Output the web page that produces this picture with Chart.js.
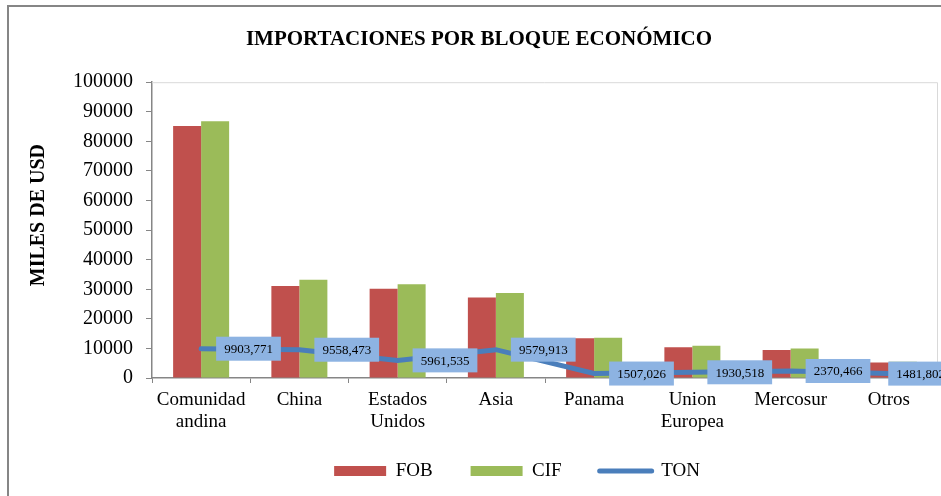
<!DOCTYPE html>
<html>
<head>
<meta charset="utf-8">
<script src="https://cdn.jsdelivr.net/npm/chart.js@4.4.1/dist/chart.umd.min.js"></script>
<style>
html,body{margin:0;padding:0;background:#fff;}
</style>
</head>
<body>
<canvas id="chart" width="941" height="496"></canvas>
<script>
// values
const categories = [['Comunidad','andina'],'China',['Estados','Unidos'],'Asia','Panama',['Union','Europea'],'Mercosur','Otros'];
const fobValues = [85200, 31100, 30200, 27200, 13400, 10400, 9500, 5200];
const cifValues = [86800, 33200, 31700, 28700, 13600, 10900, 10000, 5500];
const tonValues = [9903.771, 9558.473, 5961.535, 9579.913, 1507.026, 1930.518, 2370.466, 1481.802];
const yMin = 0, yMax = 100000, yStep = 10000;

const serif = '"Liberation Serif", "Times New Roman", serif';
Chart.defaults.font.family = serif;
Chart.defaults.color = '#000';

// outer frame + light plot-area border (top/right), legend nudge
const framePlugin = {
  id: 'frame',
  afterLayout(chart){
    // legend in the reference sits right of the canvas centre
    chart.legend.left += 38;
    chart.legend.right += 38;
  },
  beforeDraw(chart){
    const c = chart.ctx;
    c.save();
    c.fillStyle = '#fff';
    c.fillRect(0, 0, chart.width, chart.height);
    c.strokeStyle = '#868686';
    c.lineWidth = 2;
    c.strokeRect(8, 6, chart.width + 20, chart.height + 20);
    c.restore();
  },
  beforeDatasetsDraw(chart){
    const a = chart.chartArea, c = chart.ctx;
    c.save();
    c.strokeStyle = '#d9d9d9';
    c.lineWidth = 1;
    c.beginPath();
    c.moveTo(a.left, a.top + 0.5);
    c.lineTo(a.right - 0.5, a.top + 0.5);
    c.lineTo(a.right - 0.5, a.bottom);
    c.stroke();
    c.restore();
  }
};

// boxed data labels for the TON line
const tonLabels = {
  id: 'tonLabels',
  afterDatasetsDraw(chart){
    const meta = chart.getDatasetMeta(2), c = chart.ctx;
    c.save();
    c.font = '13px ' + serif;
    c.textBaseline = 'middle';
    meta.data.forEach((pt, i) => {
      const txt = tonValues[i].toFixed(3).replace('.', ',');
      const w = c.measureText(txt).width + 16;
      const x = Math.min(pt.x + 15, chart.width + 12 - w), y = pt.y;
      c.fillStyle = '#8db3e2';
      c.fillRect(x, y - 12, w, 24);
      c.fillStyle = '#000';
      c.fillText(txt, x + 8, y + 1);
    });
    c.restore();
  }
};

new Chart(document.getElementById('chart'), {
  type: 'bar',
  data: {
    labels: categories,
    datasets: [
      {label: 'FOB', data: fobValues, backgroundColor: '#c0504d', order: 1, categoryPercentage: 0.57, barPercentage: 1},
      {label: 'CIF', data: cifValues, backgroundColor: '#9bbb59', order: 1, categoryPercentage: 0.57, barPercentage: 1},
      {label: 'TON', data: tonValues, type: 'line', borderColor: '#4a7ebb', backgroundColor: '#4a7ebb', borderWidth: 5,
       borderCapStyle: 'round', pointRadius: 0, tension: 0, order: 0}
    ]
  },
  options: {
    responsive: false,
    animation: false,
    layout: {padding: {left: 20, right: 3, bottom: 5.5}},
    plugins: {
      tooltip: {enabled: false},
      title: {
        display: true,
        text: 'IMPORTACIONES POR BLOQUE ECONÓMICO',
        font: {size: 21, weight: 'bold', family: serif},
        color: '#000',
        padding: {top: 27, bottom: 30}
      },
      legend: {
        position: 'bottom',
        labels: {
          font: {size: 19, family: serif},
          usePointStyle: true,
          pointStyleWidth: 52,
          boxHeight: 10,
          padding: 38,
          sort: (a, b) => a.datasetIndex - b.datasetIndex,
          generateLabels(chart){
            const items = Chart.defaults.plugins.legend.labels.generateLabels(chart);
            items.forEach(it => {
              if (it.datasetIndex === 2) {
                it.pointStyle = 'line'; it.lineWidth = 5; it.strokeStyle = '#4a7ebb'; it.lineCap = 'round';
              } else {
                it.pointStyle = 'rect'; it.lineWidth = 0;
              }
            });
            return items;
          }
        }
      }
    },
    scales: {
      x: {
        afterFit(scale){
          scale.height = 45.5;
          scale._computeLabelArea = () => null; // let the two-line labels run below the box
        },
        grid: {display: true, drawOnChartArea: false, drawTicks: true, tickLength: 5, color: '#868686'},
        border: {color: '#868686', width: 1.5},
        ticks: {font: {size: 19, family: serif, lineHeight: 1.15}, padding: 6, maxRotation: 0, autoSkip: false}
      },
      y: {
        min: yMin, max: yMax,
        afterFit(scale){ scale.width = 132; },
        grid: {display: true, drawOnChartArea: false, drawTicks: true, tickLength: 6, color: '#868686'},
        border: {color: '#868686', width: 1.5},
        ticks: {stepSize: yStep, font: {size: 20, family: serif}, padding: 13, callback: v => String(v)},
        title: {display: true, text: '      MILES DE USD', font: {size: 20, weight: 'bold', family: serif}, padding: {top: 7, bottom: 0}}
      }
    }
  },
  plugins: [framePlugin, tonLabels]
});
</script>
</body>
</html>
